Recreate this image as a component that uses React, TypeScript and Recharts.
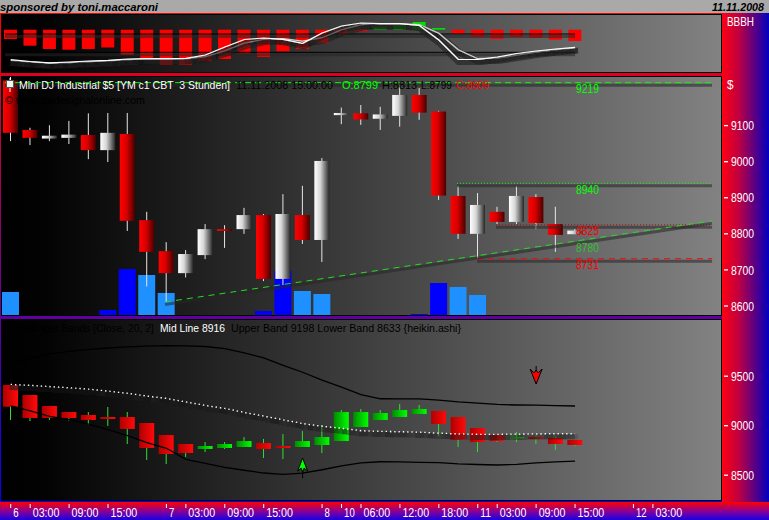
import React from 'react';
import { ComposedChart, Bar, Line, XAxis, YAxis, ReferenceLine, ReferenceDot, Cell } from 'recharts';

const FONT = "'Liberation Sans', Arial, sans-serif";

// ---------- data ----------
const idx = [0, 1, 2, 3, 4, 5, 6, 7, 8, 9, 10, 11, 12, 13, 14, 15, 16, 17, 18, 19, 20, 21, 22, 23, 24, 25, 26, 27, 28, 29];

const mainOpen = [9225, 9088, 9064, 9066, 9074, 9032, 9077, 8838, 8752, 8691, 8741, 8813, 8813, 8852, 8675, 8852, 8783, 9129, 9134, 9119, 9127, 9185, 9139, 8905, 8800, 8861, 8833, 8902, 8827, 8799];
const mainHigh = [9235, 9094, 9101, 9113, 9134, 9135, 9135, 8861, 8777, 8755, 8827, 8824, 8872, 8855, 8910, 8933, 9010, 9150, 9157, 9152, 9213, 9204, 9141, 8933, 8913, 8875, 8933, 8910, 8875, 8813];
const mainLow = [9057, 9046, 9057, 9049, 9007, 8999, 8808, 8654, 8611, 8679, 8730, 8761, 8800, 8669, 8658, 8772, 8722, 9104, 9102, 9088, 9097, 9116, 8894, 8786, 8730, 8827, 8827, 8813, 8750, 8799];
const mainClose = [9080, 9066, 9072, 9075, 9032, 9080, 8836, 8750, 8691, 8744, 8813, 8808, 8852, 8675, 8855, 8783, 9002, 9135, 9117, 9131, 9185, 9136, 8906, 8800, 8880, 8833, 8905, 8830, 8797, 8809];

const volume = [2300, 0, 0, 0, 0, 500, 4600, 4000, 2200, 0, 0, 0, 0, 400, 4400, 2400, 2100, 0, 0, 0, 0, 100, 3200, 2800, 2000, 0, 0, 0, 0, 0];
const volKind = ['l', '', '', '', '', 'b', 'b', 'l', 'l', '', '', '', '', 'b', 'b', 'l', 'l', '', '', '', '', 'b', 'b', 'l', 'l', '', '', '', '', ''];

const haOpen = [9411, 9310, 9199, 9138, 9108, 9088, 9088, 9027, 8906, 8815, 8765, 8775, 8785, 8825, 8795, 8785, 8805, 8845, 8987, 9058, 9088, 9118, 9149, 9088, 8977, 8906, 8876, 8886, 8876, 8856];
const haHigh = [9411, 9310, 9199, 9138, 9138, 9189, 9138, 9027, 8906, 8815, 8835, 8835, 8886, 8866, 8916, 8946, 9007, 9159, 9169, 9159, 9219, 9209, 9149, 9088, 8977, 8906, 8936, 8916, 8886, 8856];
const haLow = [9058, 9047, 9058, 9047, 9007, 8997, 8815, 8654, 8613, 8684, 8734, 8765, 8785, 8674, 8664, 8785, 8724, 8845, 8987, 9058, 9088, 9118, 8896, 8785, 8734, 8835, 8835, 8815, 8755, 8795];
const haClose = [9192, 9078, 9078, 9078, 9058, 9068, 8967, 8775, 8714, 8724, 8795, 8815, 8845, 8765, 8775, 8845, 8886, 9138, 9138, 9128, 9159, 9169, 9017, 8856, 8835, 8845, 8886, 8866, 8815, 8805];

const bbUpper = [9630, 9680, 9725, 9750, 9770, 9785, 9796, 9804, 9808, 9807, 9800, 9778, 9735, 9685, 9610, 9540, 9460, 9390, 9315, 9272, 9270, 9270, 9258, 9240, 9228, 9215, 9209, 9207, 9203, 9199];
const bbMid = [9418, 9408, 9396, 9384, 9370, 9350, 9328, 9300, 9277, 9240, 9205, 9175, 9135, 9098, 9060, 9022, 8995, 8975, 8950, 8943, 8940, 8935, 8925, 8918, 8913, 8913, 8915, 8918, 8920, 8920];
const bbLower = [9200, 9150, 9095, 9060, 9015, 8960, 8900, 8830, 8772, 8660, 8620, 8578, 8550, 8522, 8509, 8520, 8555, 8595, 8625, 8636, 8634, 8630, 8627, 8615, 8608, 8603, 8610, 8625, 8635, 8643];

const oscHist = [-93, -160, -193, -200, -193, -178, -250, -300, -350, -350, -316, -293, -238, -273, -218, -193, -133, -40, -16, 27, 50, 77, 17, -40, -73, -93, -73, -83, -100, -113];
const oscFast = [-300, -318, -331, -323, -313, -306, -293, -288, -290, -286, -253, -173, -98, -83, -96, -136, -33, 37, 67, 60, 60, 42, -103, -298, -298, -273, -238, -213, -193, -176];
const oscSlow = [-308, -322, -335, -330, -320, -312, -300, -293, -293, -291, -270, -210, -135, -95, -90, -115, -80, 0, 50, 62, 60, 50, -35, -200, -290, -285, -255, -225, -200, -183];
const oscLevels = [-43, -226];

const xTickIdx = [0, 1, 3, 5, 8, 9, 11, 13, 16, 17, 18, 20, 22, 24, 25, 27, 29, 32, 33];
const xTickLabels = ['6', '03:00', '09:00', '15:00', '7', '03:00', '09:00', '15:00', '8', '10', '06:00', '12:00', '18:00', '11', '03:00', '09:00', '15:00', '12', '03:00'];
const mainTicks = [9100, 9000, 8900, 8800, 8700, 8600];
const bbTicks = [9500, 9000, 8500];

const levelValues = [9219, 8940, 8825, 8731];
const levelFrom = [-0.29, 22.93, 24.94, 23.96];
const levelTo = 36.04;
const levelColors = ['#00ff00', '#00ff00', '#c00000', '#ff0000'];
const levelDash = ['6 4', '1 2', '1 2', '6 5'];
const trendStart = { x: 7.93, y: 8611 };
const trendEnd = { x: 36.04, y: 8836 };
const labelIdx = 29.64;
const priceLabels = [9219, 8940, 8825, 8780, 8731];
const priceLabelColors = ['#00ff00', '#00ff00', '#ff0000', '#30c030', '#ff0000'];

const signalIdx = [15, 27];
const signalPrice = [8673, 9421];
const signalDir = ['up', 'down'];

// ---------- tables ----------
const mainData = idx.map((i, k) => ({
  i, o: mainOpen[k], h: mainHigh[k], l: mainLow[k], c: mainClose[k],
  range: [mainLow[k], mainHigh[k]], vol: volume[k], vk: volKind[k],
}));
const haData = idx.map((i, k) => ({
  i, o: haOpen[k], h: haHigh[k], l: haLow[k], c: haClose[k],
  range: [haLow[k], haHigh[k]], up: bbUpper[k], mid: bbMid[k], low: bbLower[k],
}));
const oscData = idx.map((i, k) => ({ i, hist: oscHist[k], fast: oscFast[k], slow: oscSlow[k] }));

// ---------- shapes ----------
const makeCandle = (upFill: string, downFill: string, wick: string) => (p: any) => {
  const { x, y, width, height, payload } = p;
  if (x == null || payload == null) return null;
  const top0 = Math.min(y, y + height);
  const hh = Math.abs(height);
  const { o, h, l, c } = payload;
  const span = h - l || 1;
  const py = (v: number) => top0 + ((h - v) / span) * hh;
  const bt = py(Math.max(o, c));
  const bb = py(Math.min(o, c));
  const cx = x + width / 2;
  return (
    <g>
      <line x1={cx} x2={cx} y1={top0} y2={top0 + hh} stroke={wick} strokeWidth={1} />
      <rect x={x} y={bt} width={width} height={Math.max(bb - bt, 1.5)} fill={c >= o ? upFill : downFill} />
    </g>
  );
};
const MainCandle = makeCandle('url(#gWhite)', 'url(#gRed)', '#e6e6e6');
const HaCandle = makeCandle('url(#gGreen)', 'url(#gRed2)', '#33dd33');

const levelShape = (stroke: string, dash: string) => (p: any) => {
  const { x1, y1, x2, y2 } = p;
  if (x1 == null) return null;
  return (
    <g>
      <line x1={x1} y1={y1 + 2.5} x2={x2} y2={y2 + 2.5} stroke="#262626" strokeOpacity={0.55} strokeWidth={3} />
      <line x1={x1} y1={y1} x2={x2} y2={y2} stroke={stroke} strokeWidth={1} strokeDasharray={dash} />
    </g>
  );
};

const labelShape = (txt: string, color: string) => (p: any) => (
  <text x={p.cx} y={p.cy + 10.5} textAnchor="middle" fill={color} fontSize={12} fontFamily={FONT}
    textLength={23} lengthAdjust="spacingAndGlyphs">{txt}</text>
);

const arrowShape = (dir: string) => (p: any) => {
  const { cx, cy } = p;
  if (dir === 'up') {
    return (
      <g>
        <line x1={cx} x2={cx} y1={cy + 6} y2={cy + 20} stroke="#000" strokeWidth={1} />
        <polygon points={`${cx},${cy} ${cx + 5},${cy + 13} ${cx + 1.5},${cy + 10} ${cx},${cy + 14} ${cx - 1.5},${cy + 10} ${cx - 5},${cy + 13}`}
          fill="#00ff00" stroke="#000" strokeWidth={1} />
      </g>
    );
  }
  return (
    <g>
      <line x1={cx} x2={cx} y1={cy - 18} y2={cy - 6} stroke="#000" strokeWidth={1} />
      <polygon points={`${cx},${cy} ${cx + 6},${cy - 15} ${cx + 2},${cy - 11} ${cx},${cy - 14} ${cx - 2},${cy - 11} ${cx - 6},${cy - 15}`}
        fill="#ff0000" stroke="#000" strokeWidth={1} />
    </g>
  );
};

const RightTick = (p: any) => {
  const { x, y, payload } = p;
  return (
    <g>
      <line x1={x + 3} x2={x + 7} y1={y} y2={y} stroke="#fff" strokeWidth={1.3} />
      <text x={x + 10} y={y + 4.6} fill="#fff" fontSize={12.5} fontFamily={FONT}
        textLength={23} lengthAdjust="spacingAndGlyphs">{payload.value}</text>
    </g>
  );
};

const XTick = (p: any) => {
  const { x, y, payload } = p;
  const k = xTickIdx.indexOf(payload.value);
  const label = k >= 0 ? xTickLabels[k] : '';
  return (
    <g>
      <line x1={x} x2={x} y1={y + 4} y2={y + 8} stroke="#fff" strokeWidth={1} />
      <text x={x + 2.5} y={y + 16.6} fill="#fff" fontSize={12} fontFamily={FONT}
        textLength={label.length * 5.35} lengthAdjust="spacingAndGlyphs">{label}</text>
    </g>
  );
};

const X_DOMAIN: [number, number] = [-0.5, 36.5];

const abs = (l: number, t: number, w: number, h: number, extra: any = {}) =>
  ({ position: 'absolute' as const, left: l, top: t, width: w, height: h, ...extra });

const panelBg = 'linear-gradient(to right, #000000 0%, #030303 6%, #828282 100%)';

const T = (props: any) => (
  <text fontFamily={FONT} fontSize={10.2} lengthAdjust="spacingAndGlyphs" style={{ whiteSpace: 'pre' }} {...props} />
);

export default function App() {
  return (
    <div style={abs(0, 0, 769, 520, { overflow: 'hidden', background: '#000' })}>
      <svg width={0} height={0} style={{ position: 'absolute' }}>
        <defs>
          <linearGradient id="gRed" x1="0" y1="0" x2="1" y2="0">
            <stop offset="0%" stopColor="#ff0000" />
            <stop offset="45%" stopColor="#d80000" />
            <stop offset="100%" stopColor="#4a0000" />
          </linearGradient>
          <linearGradient id="gWhite" x1="0" y1="0" x2="1" y2="0">
            <stop offset="0%" stopColor="#ffffff" />
            <stop offset="40%" stopColor="#d6d6d6" />
            <stop offset="100%" stopColor="#262626" />
          </linearGradient>
          <linearGradient id="gRed2" x1="0" y1="0" x2="1" y2="0">
            <stop offset="0%" stopColor="#b00000" />
            <stop offset="100%" stopColor="#ff0a0a" />
          </linearGradient>
          <linearGradient id="gGreen" x1="0" y1="0" x2="1" y2="0">
            <stop offset="0%" stopColor="#008c00" />
            <stop offset="100%" stopColor="#00ff00" />
          </linearGradient>
          <filter id="lsh" filterUnits="userSpaceOnUse" x="-20" y="-20" width="820" height="600">
            <feMorphology in="SourceAlpha" operator="dilate" radius="1.5" result="d" />
            <feOffset in="d" dx="1" dy="3" result="o" />
            <feFlood floodColor="#1a1a1a" floodOpacity="0.6" />
            <feComposite in2="o" operator="in" result="s" />
            <feMerge>
              <feMergeNode in="s" />
              <feMergeNode in="SourceGraphic" />
            </feMerge>
          </filter>
        </defs>
      </svg>

      {/* backgrounds */}
      <div style={abs(0, 0, 769, 13, { background: '#a9a9a9' })} />
      <div style={abs(0, 13, 722, 489, { background: 'linear-gradient(to bottom, #ff0000 0%, #0000ff 100%)' })} />
      <div style={abs(722, 13, 47, 489, { background: 'linear-gradient(to right, #ff0010 0%, #c00040 35%, #0000c0 100%)' })} />
      <div style={abs(0, 502, 769, 18, { background: 'linear-gradient(to bottom, #ff0000 0%, #8000a0 55%, #1800e0 100%)' })} />
      <div style={abs(1, 14, 721, 59, { background: panelBg, border: '1px solid #000', boxSizing: 'border-box' })} />
      <div style={abs(1, 76, 721, 240, { background: panelBg, border: '1px solid #000', boxSizing: 'border-box' })} />
      <div style={abs(1, 319, 721, 182, { background: panelBg, border: '1px solid #000', boxSizing: 'border-box' })} />

      {/* oscillator panel */}
      <div style={abs(0, 14, 769, 59)}>
        <ComposedChart width={769} height={59} data={oscData} margin={{ top: 0, right: 48, bottom: 0, left: 1 }}>
          <XAxis dataKey="i" type="number" domain={X_DOMAIN} allowDataOverflow hide />
          <YAxis type="number" domain={[-433, 157]} allowDataOverflow hide />
          <Bar dataKey="hist" barSize={13} isAnimationActive={false}>
            {oscData.map((d, k) => (
              <Cell key={k} fill={d.hist >= 0 ? '#00e000' : '#ff0000'} />
            ))}
          </Bar>
          {oscLevels.map((v, k) => (
            <ReferenceLine key={k} segment={[{ x: -0.29, y: v }, { x: 29.0, y: v }]}
              shape={levelShape('#000000', '')} />
          ))}
          <Line dataKey="slow" stroke="#d0d0d0" strokeWidth={1.2} dot={false} activeDot={false}
            isAnimationActive={false} filter="url(#lsh)" />
          <Line dataKey="fast" stroke="#ffffff" strokeWidth={1.2} dot={false} activeDot={false}
            isAnimationActive={false} filter="url(#lsh)" />
        </ComposedChart>
      </div>

      {/* volume (behind main) */}
      <div style={abs(0, 76, 769, 239)}>
        <ComposedChart width={769} height={239} data={mainData} margin={{ top: 0, right: 48, bottom: 0, left: 1 }}>
          <XAxis dataKey="i" type="number" domain={X_DOMAIN} allowDataOverflow hide />
          <YAxis type="number" domain={[0, 23900]} allowDataOverflow hide />
          <Bar dataKey="vol" barSize={17} isAnimationActive={false}>
            {mainData.map((d, k) => (
              <Cell key={k} fill={d.vk === 'b' ? '#0000ff' : '#1e90ff'} />
            ))}
          </Bar>
        </ComposedChart>
      </div>

      {/* main price panel */}
      <div style={abs(0, 76, 769, 239)}>
        <ComposedChart width={769} height={239} data={mainData} margin={{ top: 0, right: 0, bottom: 0, left: 1 }}>
          <XAxis dataKey="i" type="number" domain={X_DOMAIN} allowDataOverflow hide />
          <YAxis type="number" orientation="right" width={48} domain={[8575, 9237.5]} allowDataOverflow
            ticks={mainTicks} interval={0} axisLine={false} tickLine={false} tickSize={0} tickMargin={0}
            tick={<RightTick />} />
          {levelValues.map((v, k) => (
            <ReferenceLine key={k} segment={[{ x: levelFrom[k], y: v }, { x: levelTo, y: v }]}
              shape={levelShape(levelColors[k], levelDash[k])} />
          ))}
          <ReferenceLine segment={[trendStart, trendEnd]} shape={levelShape('#22dd22', '6 5')} />
          <Bar dataKey="range" barSize={15} isAnimationActive={false} shape={MainCandle} />
          {priceLabels.map((v, k) => (
            <ReferenceDot key={k} x={labelIdx} y={v} r={0} shape={labelShape(String(v), priceLabelColors[k])} />
          ))}
        </ComposedChart>
      </div>

      {/* bollinger / heikin ashi panel with time axis */}
      <div style={abs(0, 319, 769, 201)}>
        <ComposedChart width={769} height={201} data={haData} margin={{ top: 0, right: 0, bottom: 0, left: 1 }}>
          <XAxis dataKey="i" type="number" domain={X_DOMAIN} allowDataOverflow height={20}
            ticks={xTickIdx} interval={0} axisLine={false} tickLine={false} tickSize={0} tickMargin={0}
            tick={<XTick />} />
          <YAxis type="number" orientation="right" width={48} domain={[8249.5, 10077.8]} allowDataOverflow
            ticks={bbTicks} interval={0} axisLine={false} tickLine={false} tickSize={0} tickMargin={0}
            tick={<RightTick />} />
          <Line dataKey="up" stroke="#000" strokeWidth={1.3} dot={false} activeDot={false} isAnimationActive={false} />
          <Line dataKey="low" stroke="#000" strokeWidth={1.3} dot={false} activeDot={false} isAnimationActive={false} />
          <Line dataKey="mid" stroke="#ffffff" strokeWidth={1.3} strokeDasharray="1.3 3" dot={false} activeDot={false}
            isAnimationActive={false} filter="url(#lsh)" />
          <Bar dataKey="range" barSize={15} isAnimationActive={false} shape={HaCandle} />
          {signalIdx.map((v, k) => (
            <ReferenceDot key={k} x={v} y={signalPrice[k]} r={0} shape={arrowShape(signalDir[k])} />
          ))}
        </ComposedChart>
      </div>

      {/* texts */}
      <svg width={769} height={520} style={{ position: 'absolute', left: 0, top: 0, pointerEvents: 'none' }}>
        <T x={0} y={11} fontSize={11.5} fontWeight="bold" fontStyle="italic" fill="#000" textLength={158}>sponsored by toni.maccaroni</T>
        <T x={712} y={11} fontSize={11} fontWeight="bold" fontStyle="italic" fill="#000" textLength={52}>11.11.2008</T>
        <T x={727} y={26} fill="#fff" fontSize={12} textLength={27}>BBBH</T>
        <T x={727} y={88.5} fill="#fff" fontSize={12} textLength={6.5}>$</T>

        <line x1={10} x2={10} y1={78} y2={92} stroke="#ffffff" strokeWidth={1} />
        <rect x={6.5} y={80.5} width={7} height={7} fill="#f4f4f4" stroke="#555" strokeWidth={1} />
        <T x={19} y={88.7} fill="#ffffff" textLength={211}>Mini DJ Industrial $5 [YM c1 CBT  3 Stunden]</T>
        <T x={236} y={88.7} fill="#000" textLength={97}>11.11.2008 15:00:00</T>
        <T x={342} y={88.7} fill="#00ff00" textLength={36}>O:8799</T>
        <T x={382} y={88.7} fill="#000" textLength={35}>H:8813</T>
        <T x={421} y={88.7} fill="#000" textLength={31}>L:8799</T>
        <T x={456} y={88.7} fill="#ff0000" textLength={33}>C:8809</T>
        <T x={5} y={104} fill="#000" textLength={140}>© www.tradesignalonline.com</T>

        <T x={18.7} y={332} fill="#000" textLength={135}>Bollinger Bands [Close, 20, 2]</T>
        <T x={160} y={332} fill="#fff" textLength={65}>Mid Line 8916</T>
        <T x={231} y={332} fill="#000" textLength={230}>Upper Band 9198 Lower Band 8633 {'{heikin.ashi}'}</T>
      </svg>
    </div>
  );
}
